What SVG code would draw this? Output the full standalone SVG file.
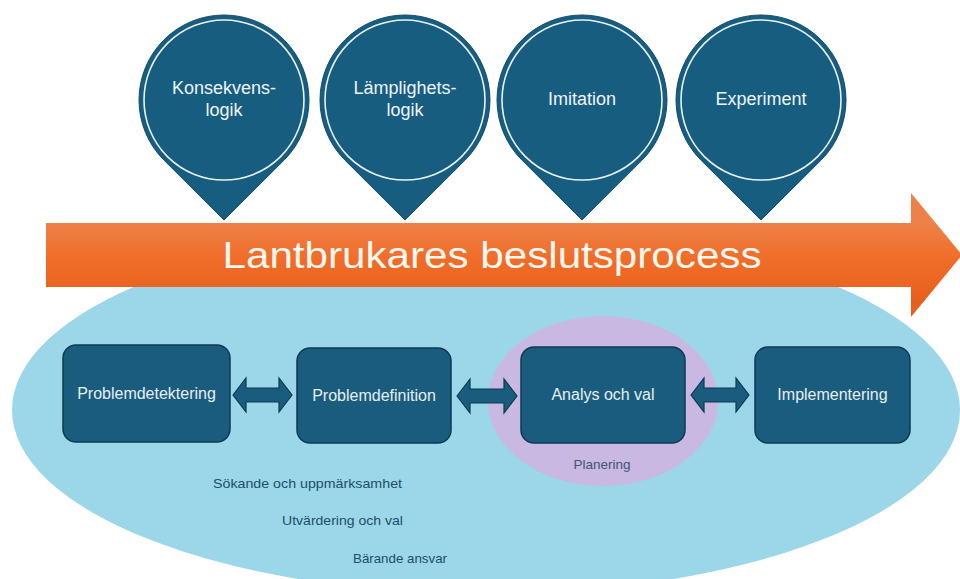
<svg xmlns="http://www.w3.org/2000/svg" width="960" height="579" viewBox="0 0 960 579">
<style>
.pin{fill:#175d80;stroke:#124c69;stroke-width:1}
.ring{fill:none;stroke:#e9f1f5;stroke-width:1.6}
.pint{font-family:"Liberation Sans",Arial,sans-serif;font-size:18px;fill:#eef4f7;text-anchor:middle}
.box{fill:#1a5c7e;stroke:#0d3a50;stroke-width:1.5}
.boxt{font-family:"Liberation Sans",Arial,sans-serif;font-size:16px;fill:#e6eff4;text-anchor:middle}
.dbl{fill:#1a5c7e;stroke:#0d3a50;stroke-width:1.2}
.low{font-family:"Liberation Sans",Arial,sans-serif;font-size:13.5px;fill:#1d4e68}
</style>
<defs>
<linearGradient id="og" gradientUnits="userSpaceOnUse" x1="0" y1="222" x2="0" y2="300">
<stop offset="0" stop-color="#ee8149"/>
<stop offset="0.45" stop-color="#f06e2a"/>
<stop offset="1" stop-color="#e7601b"/>
</linearGradient>
</defs>
<rect width="960" height="579" fill="#ffffff"/>
<g id="background-ellipse">
<ellipse cx="486" cy="410" rx="474" ry="184" fill="#9bd7e8"/>
</g>
<g id="planering-area">
<ellipse cx="603" cy="401" rx="115" ry="85" fill="#c9b8e2"/>
<text x="602" y="469" style="font-family:'Liberation Sans',Arial,sans-serif;font-size:13.5px;fill:#3d5870;text-anchor:middle">Planering</text>
</g>
<g id="process-arrow">
<path d="M46,223 L911,223 L911,193 L962,255 L911,317 L911,287 L46,287 Z" fill="url(#og)"/>
<text x="492" y="268" textLength="539" lengthAdjust="spacingAndGlyphs" style="font-family:'Liberation Sans',Arial,sans-serif;font-size:37px;fill:#fff7f0;text-anchor:middle">Lantbrukares beslutsprocess</text>
</g>
<g id="pin-konsekvenslogik">
<path class="pin" d="M224,220 L163.9,160.1 A85,85 0 1 1 284.1,160.1 Z"/>
<circle class="ring" cx="224" cy="100" r="80"/>
<text class="pint" x="224" y="94">Konsekvens-</text>
<text class="pint" x="224" y="116">logik</text>
</g>
<g id="pin-lamplighetslogik">
<path class="pin" d="M405,220 L344.9,160.1 A85,85 0 1 1 465.1,160.1 Z"/>
<circle class="ring" cx="405" cy="100" r="80"/>
<text class="pint" x="405" y="94">Lämplighets-</text>
<text class="pint" x="405" y="116">logik</text>
</g>
<g id="pin-imitation">
<path class="pin" d="M582,220 L521.9,160.1 A85,85 0 1 1 642.1,160.1 Z"/>
<circle class="ring" cx="582" cy="100" r="80"/>
<text class="pint" x="582" y="105">Imitation</text>
</g>
<g id="pin-experiment">
<path class="pin" d="M761,220 L700.9,160.1 A85,85 0 1 1 821.1,160.1 Z"/>
<circle class="ring" cx="761" cy="100" r="80"/>
<text class="pint" x="761" y="105">Experiment</text>
</g>
<g id="box-problemdetektering">
<rect class="box" x="63" y="345" width="167" height="97" rx="13"/>
<text class="boxt" x="146.5" y="399">Problemdetektering</text>
</g>
<g id="box-problemdefinition">
<rect class="box" x="297" y="348" width="154" height="95" rx="13"/>
<text class="boxt" x="374" y="401">Problemdefinition</text>
</g>
<g id="box-analys">
<rect class="box" x="521" y="347" width="164" height="96" rx="13"/>
<text class="boxt" x="603" y="400">Analys och val</text>
</g>
<g id="box-implementering">
<rect class="box" x="755" y="347" width="155" height="96" rx="13"/>
<text class="boxt" x="832.5" y="400">Implementering</text>
</g>
<g id="connectors">
<path class="dbl" d="M233,395 L246,378 L246,388 L279,388 L279,378 L292,395 L279,412 L279,402 L246,402 L246,412 Z"/>
<path class="dbl" d="M457,396 L470,379 L470,389 L504,389 L504,379 L517,396 L504,413 L504,403 L470,403 L470,413 Z"/>
<path class="dbl" d="M691,395 L704,378 L704,388 L736,388 L736,378 L749,395 L736,412 L736,402 L704,402 L704,412 Z"/>
</g>
<g id="lower-labels">
<text class="low" x="213" y="488" textLength="189" lengthAdjust="spacingAndGlyphs">Sökande och uppmärksamhet</text>
<text class="low" x="282" y="525" textLength="121" lengthAdjust="spacingAndGlyphs">Utvärdering och val</text>
<text class="low" x="353" y="563" textLength="94" lengthAdjust="spacingAndGlyphs">Bärande ansvar</text>
</g>
</svg>
